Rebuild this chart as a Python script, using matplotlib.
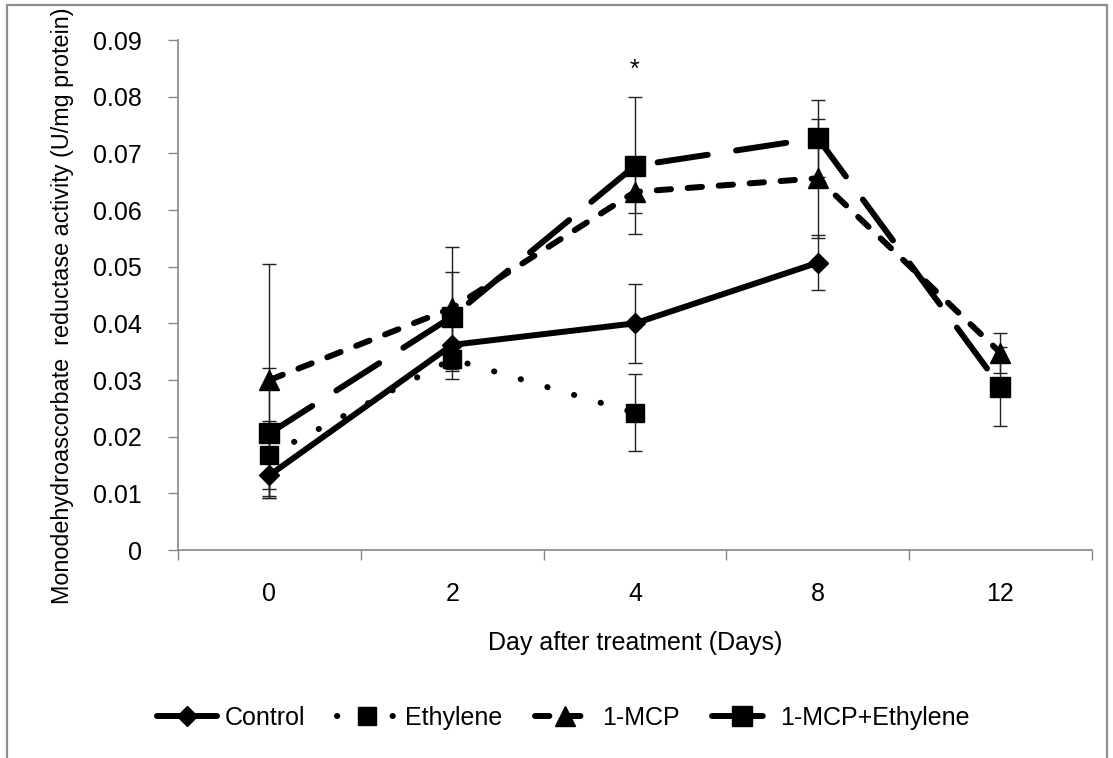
import matplotlib
matplotlib.use("Agg")
import matplotlib.pyplot as plt
from matplotlib.patches import Rectangle

days = ["0", "2", "4", "8", "12"]

control = [0.0132, 0.0362, 0.0400, 0.0507]
control_err = [0.0040, 0.0060, 0.0070, 0.0049]

ethylene = [0.0168, 0.0337, 0.0242]
ethylene_err = [0.0060, 0.0021, 0.0068]

mcp = [0.0300, 0.0427, 0.0632, 0.0656, 0.0348]
mcp_err = [0.0205, 0.0108, 0.0037, 0.0105, 0.0035]

mcp_eth = [0.0206, 0.0412, 0.0678, 0.0727, 0.0288]
mcp_eth_err = [0.0115, 0.0078, 0.0121, 0.0068, 0.0070]

star_day, star_y = 2, 0.0848

plt.rcParams["font.family"] = ["Liberation Sans", "DejaVu Sans"]
fs = 18

fig = plt.figure(figsize=(11.13, 7.58), dpi=100)
ax = fig.add_axes([0.160, 0.2744, 0.821, 0.6728])

fig.patches.append(Rectangle((7 / 1113, -0.05), 1100 / 1113, 753 / 758 + 0.05,
                             transform=fig.transFigure, fill=False,
                             ec="#8e8e8e", lw=1.6))

series = [
    ("Control", control, control_err, "D", 10, "-"),
    ("Ethylene", ethylene, ethylene_err, "s", 13, (0, (0.05, 4.6))),
    ("1-MCP", mcp, mcp_err, "^", 15, (0, (2.4, 2.8))),
    ("1-MCP+Ethylene", mcp_eth, mcp_eth_err, "s", 15, (0, (8.5, 4.8))),
]

for name, vals, errs, mk, ms, ls in series:
    x = list(range(len(vals)))
    ax.errorbar(x, vals, yerr=errs, fmt="none", ecolor="#222222",
                elinewidth=1.0, capsize=4.7, capthick=1.0, zorder=2)
    ax.plot(x, vals, linestyle=ls, color="black", lw=4.3, marker=mk, ms=ms,
            dash_capstyle="round", solid_capstyle="round", label=name, zorder=3)

ax.text(star_day, star_y, "*", ha="center", va="center", fontsize=fs)

ax.set_xlim(-0.5, len(days) - 0.5)
ax.set_ylim(0, 0.09)
ax.set_yticks([i / 100 for i in range(10)])
ax.set_yticklabels(["0"] + ["%.2f" % (i / 100) for i in range(1, 10)])

ax.set_xticks([i - 0.5 for i in range(len(days) + 1)])
ax.set_xticklabels([])
ax.set_xticks(range(len(days)), minor=True)
ax.set_xticklabels(days, minor=True)
ax.tick_params(axis="x", which="major", length=7, width=1, color="#868686")
ax.tick_params(axis="x", which="minor", length=0, pad=23, labelsize=fs)
ax.tick_params(axis="y", length=7, width=1, color="#868686", pad=19, labelsize=fs)

for s in ["top", "right"]:
    ax.spines[s].set_visible(False)
for s in ["left", "bottom"]:
    ax.spines[s].set_color("#868686")
    ax.spines[s].set_linewidth(1.2)

ax.set_xlabel("Day after treatment (Days)", fontsize=fs)
ax.xaxis.set_label_coords(0.5, -0.158)
ax.set_ylabel("Monodehydroascorbate  reductase activity (U/mg protein)", fontsize=16.8)
ax.yaxis.set_label_coords(-0.114, 0.48)

fig.legend(loc="center", bbox_to_anchor=(0.506, 0.0528), ncol=4, frameon=False,
           fontsize=fs, handlelength=2.4, columnspacing=1.3, handletextpad=0.3)

fig.savefig("out.png", dpi=100)
